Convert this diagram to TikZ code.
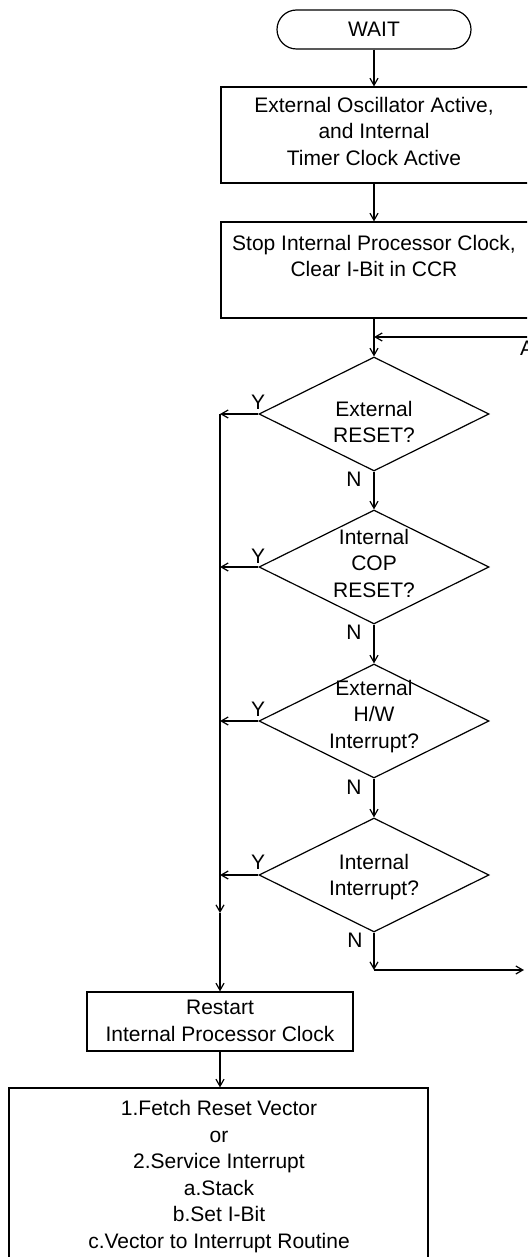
\documentclass[tikz,border=0pt]{standalone}
\usepackage{fontspec}
\setmainfont{Liberation Sans}
\usetikzlibrary{arrows.meta,shapes.geometric}
\begin{document}
\begin{tikzpicture}[x=1pt,y=-1pt,
  line width=1.2pt,
  every node/.style={font=\fontsize{21}{26.5}\selectfont},
  txt/.style={align=center,inner sep=0pt},
  box/.style={draw,rectangle,inner sep=0pt},
  dia/.style={draw,diamond,inner sep=0pt,minimum width=230pt,minimum height=114pt},
  arr/.style={-{Straight Barb[length=7pt,width=8pt]}},
  lbl/.style={inner sep=0pt}
]
\useasboundingbox (0,0) rectangle (527,1257);
\clip (0,0) rectangle (527,1257);

% terminal
\node[draw,rounded corners=19.5pt,minimum width=194pt,minimum height=39pt,inner sep=0pt] (wait) at (374,29.5) {WAIT};

% boxes
\node[box,minimum width=308pt,minimum height=96pt] (b1) at (375,135) {};
\node[txt] (b1t) at (374,131) {External Oscillator Active,\\and Internal\\Timer Clock Active};
\node[box,minimum width=308pt,minimum height=96pt] (b2) at (375,270) {};
\node[txt] (b2t) at (374,256) {Stop Internal Processor Clock,\\Clear I-Bit in CCR};

% diamonds
\node[dia] (d1) at (374,414) {};
\node[txt] (d1t) at (374,422) {External\\RESET?};
\node[dia] (d2) at (374,567) {};
\node[txt] (d2t) at (374,563) {Internal\\COP\\RESET?};
\node[dia] (d3) at (374,721) {};
\node[txt] (d3t) at (374,716.5) {External\\H/W\\Interrupt?};
\node[dia] (d4) at (374,875) {};
\node[txt] (d4t) at (374,877) {Internal\\Interrupt?};

% lower boxes
\node[box,minimum width=266pt,minimum height=59pt] (b3) at (220,1021.5) {};
\node[txt] (b3t) at (220,1021) {Restart\\Internal Processor Clock};
\node[box,minimum width=419pt,minimum height=212pt] (b4) at (218.5,1194) {};
\node[txt] (b4t) at (219,1176.5) {1.Fetch Reset Vector\\or\\2.Service Interrupt\\a.Stack\\b.Set I-Bit\\c.Vector to Interrupt Routine};

% labels
\node[lbl] (y1) at (258,402) {Y};
\node[lbl] (y2) at (258,556) {Y};
\node[lbl] (y3) at (258,709) {Y};
\node[lbl] (y4) at (258,862) {Y};
\node[lbl] (n1) at (354,479) {N};
\node[lbl] (n2) at (354,632) {N};
\node[lbl] (n3) at (354,787) {N};
\node[lbl] (n4) at (355,940) {N};
\node[lbl] (A) at (527,348) {A};

% coordinates
\coordinate (spine) at (220,0);
\coordinate (sj) at (220,913);
\coordinate (loopR) at (530,337);
\coordinate (nd) at (374,970);
\coordinate (ne) at (524,970);

% connectors
\draw[arr] (wait.south) -- (wait.south |- b1.north);
\draw[arr] (wait.south |- b1.south) -- (wait.south |- b2.north);
\draw[arr] (wait.south |- b2.south) -- (d1.north);
\draw[arr] (loopR) -- (loopR -| d1.north);
\draw[arr] (d1.south) -- (d2.north);
\draw[arr] (d2.south) -- (d3.north);
\draw[arr] (d3.south) -- (d4.north);
\draw[arr] (d4.south) -- (nd);
\draw[arr] (nd) -- (ne);

\draw[arr] (d1.west) -- (d1.west -| spine);
\draw[arr] (d2.west) -- (d2.west -| spine);
\draw[arr] (d3.west) -- (d3.west -| spine);
\draw[arr] (d4.west) -- (d4.west -| spine);
\draw[arr] (d1.west -| spine) -- (sj);
\draw[arr] (sj) -- (b3.north);
\draw[arr] (b3.south) -- (b3.south |- b4.north);
\end{tikzpicture}
\end{document}
